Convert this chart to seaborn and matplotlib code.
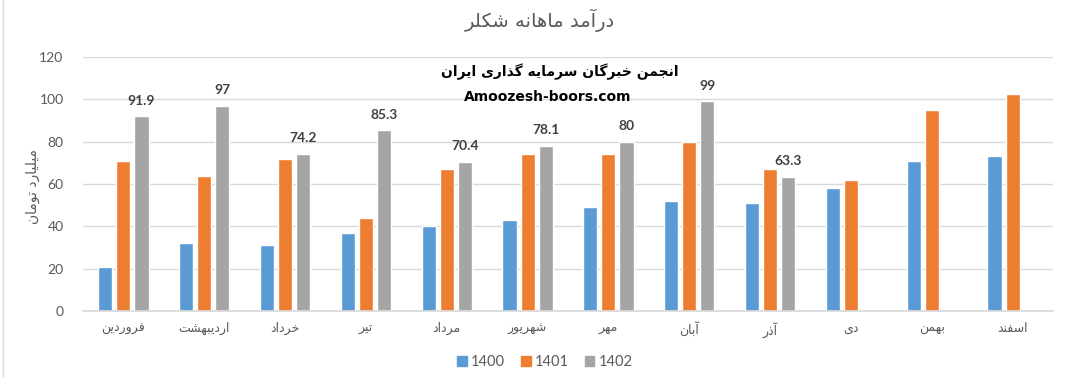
import numpy as np
import pandas as pd
import matplotlib
matplotlib.use("Agg")
import matplotlib.pyplot as plt
import seaborn as sns

# ---------------- data ----------------
months = ["فروردین", "اردیبهشت", "خرداد", "تیر", "مرداد", "شهریور",
          "مهر", "آبان", "آذر", "دی", "بهمن", "اسفند"]
years = ["1400", "1401", "1402"]
v1400 = [21, 32, 31, 37, 40, 43, 49, 52, 51, 58, 71, 73]
v1401 = [71, 64, 72, 44, 67, 74, 74, 80, 67, 62, 95, 102.5]
v1402 = [91.9, 97, 74.2, 85.3, 70.4, 78.1, 80, 99, 63.3, np.nan, np.nan, np.nan]
yticks = [0, 20, 40, 60, 80, 100, 120]

title = "درآمد ماهانه شکلر"
ylabel = "میلیارد تومان"
wm1 = "انجمن خبرگان سرمایه گذاری ایران"
wm2 = "Amoozesh-boors.com"

# ------------- minimal Persian shaping (matplotlib has no shaping/bidi) -------------
# letter: (isolated, final, initial, medial) ; right-joining letters have only 2 forms
FORMS = {
    "ا": (0xFE8D, 0xFE8E), "آ": (0xFE81, 0xFE82),
    "ب": (0xFE8F, 0xFE90, 0xFE91, 0xFE92), "پ": (0xFB56, 0xFB57, 0xFB58, 0xFB59),
    "ت": (0xFE95, 0xFE96, 0xFE97, 0xFE98), "ث": (0xFE99, 0xFE9A, 0xFE9B, 0xFE9C),
    "ج": (0xFE9D, 0xFE9E, 0xFE9F, 0xFEA0), "چ": (0xFB7A, 0xFB7B, 0xFB7C, 0xFB7D),
    "ح": (0xFEA1, 0xFEA2, 0xFEA3, 0xFEA4), "خ": (0xFEA5, 0xFEA6, 0xFEA7, 0xFEA8),
    "د": (0xFEA9, 0xFEAA), "ذ": (0xFEAB, 0xFEAC), "ر": (0xFEAD, 0xFEAE),
    "ز": (0xFEAF, 0xFEB0), "ژ": (0xFB8A, 0xFB8B),
    "س": (0xFEB1, 0xFEB2, 0xFEB3, 0xFEB4), "ش": (0xFEB5, 0xFEB6, 0xFEB7, 0xFEB8),
    "ص": (0xFEB9, 0xFEBA, 0xFEBB, 0xFEBC), "ض": (0xFEBD, 0xFEBE, 0xFEBF, 0xFEC0),
    "ط": (0xFEC1, 0xFEC2, 0xFEC3, 0xFEC4), "ظ": (0xFEC5, 0xFEC6, 0xFEC7, 0xFEC8),
    "ع": (0xFEC9, 0xFECA, 0xFECB, 0xFECC), "غ": (0xFECD, 0xFECE, 0xFECF, 0xFED0),
    "ف": (0xFED1, 0xFED2, 0xFED3, 0xFED4), "ق": (0xFED5, 0xFED6, 0xFED7, 0xFED8),
    "ک": (0xFB8E, 0xFB8F, 0xFB90, 0xFB91), "گ": (0xFB92, 0xFB93, 0xFB94, 0xFB95),
    "ل": (0xFEDD, 0xFEDE, 0xFEDF, 0xFEE0), "م": (0xFEE1, 0xFEE2, 0xFEE3, 0xFEE4),
    "ن": (0xFEE5, 0xFEE6, 0xFEE7, 0xFEE8), "و": (0xFEED, 0xFEEE),
    "ه": (0xFEE9, 0xFEEA, 0xFEEB, 0xFEEC), "ی": (0xFBFC, 0xFBFD, 0xFBFE, 0xFBFF),
}


def shape(s):
    out = []
    n = len(s)
    for i, c in enumerate(s):
        f = FORMS.get(c)
        if f is None:
            out.append(c)
            continue
        prev = s[i - 1] if i > 0 else None
        nxt = s[i + 1] if i < n - 1 else None
        pj = prev in FORMS and len(FORMS[prev]) == 4
        nj = len(f) == 4 and nxt in FORMS
        if pj and nj:
            out.append(chr(f[3]))
        elif pj:
            out.append(chr(f[1]))
        elif nj:
            out.append(chr(f[2]))
        else:
            out.append(chr(f[0]))
    return "".join(out)[::-1]


# ---------------- plot ----------------
sns.set_theme(style="white")
plt.rcParams["font.family"] = ["Lato", "DejaVu Sans"]

rows = []
for yr, vals in zip(years, [v1400, v1401, v1402]):
    for m, v in zip(months, vals):
        rows.append({"month": m, "year": yr, "value": v})
df = pd.DataFrame(rows)

colors = ["#5B9BD5", "#ED7D31", "#A5A5A5"]
txt = "#595959"

fig = plt.figure(figsize=(10.76, 3.78), dpi=100)
ax = fig.add_axes([83 / 1076, 1 - 311 / 378, (1053 - 83) / 1076, (311 - 57) / 378])

sns.barplot(data=df, x="month", y="value", hue="year", order=months,
            hue_order=years, palette=colors, saturation=1, width=0.67,
            gap=0.22, errorbar=None, ax=ax)

ax.set_ylim(0, 120)
ax.set_yticks(yticks)
ax.set_xlim(-0.5, len(months) - 0.5)
ax.yaxis.grid(True, color="#D9D9D9", linewidth=1)
ax.set_axisbelow(True)
for sp in ["top", "right", "left"]:
    ax.spines[sp].set_visible(False)
ax.spines["bottom"].set_color("#D9D9D9")
ax.tick_params(axis="both", length=0, colors=txt)
ax.tick_params(axis="y", labelsize=10, pad=14)
ax.set_xticks(range(len(months)))
ax.set_xticklabels([shape(m) for m in months], fontsize=9, color=txt,
                   family=["DejaVu Sans"])
ax.tick_params(axis="x", pad=8)
ax.set_xlabel("")
ax.set_ylabel("")

# data labels on the 1402 series
cont = ax.containers[2]
ax.bar_label(cont, fmt="{:g}", padding=7, fontsize=10, fontweight="bold",
             color="#404040")

# legend at the bottom
ax.get_legend().remove()
handles = [plt.Rectangle((0, 0), 1, 1, color=c) for c in colors]
fig.legend(handles, years, loc="center", bbox_to_anchor=(545 / 1076, 1 - 362 / 378),
           ncol=3, frameon=False, handlelength=0.65, handleheight=0.65,
           handletextpad=0.3, columnspacing=1.1, fontsize=10.5, labelcolor=txt)

# title and axis title
fig.text(540 / 1076, 1 - 20 / 378, shape(title), ha="center", va="center",
         fontsize=14, color=txt, family=["DejaVu Sans"])
fig.text(33 / 1076, 1 - 187 / 378, shape(ylabel), ha="center", va="center",
         rotation=90, fontsize=10, color=txt, family=["DejaVu Sans"])

# watermark
fig.text(560 / 1076, 1 - 72 / 378, shape(wm1), ha="center", va="center",
         fontsize=10, fontweight="bold", color="black", family=["DejaVu Sans"])
fig.text(548 / 1076, 1 - 97 / 378, wm2, ha="center", va="center",
         fontsize=10, fontweight="bold", color="black", family=["DejaVu Sans"])

# spreadsheet border line at far left
fig.add_artist(plt.Line2D([3 / 1076, 3 / 1076], [0, 1], color="#D9D9D9",
                          linewidth=1, transform=fig.transFigure))

fig.savefig("out.png", dpi=100)
